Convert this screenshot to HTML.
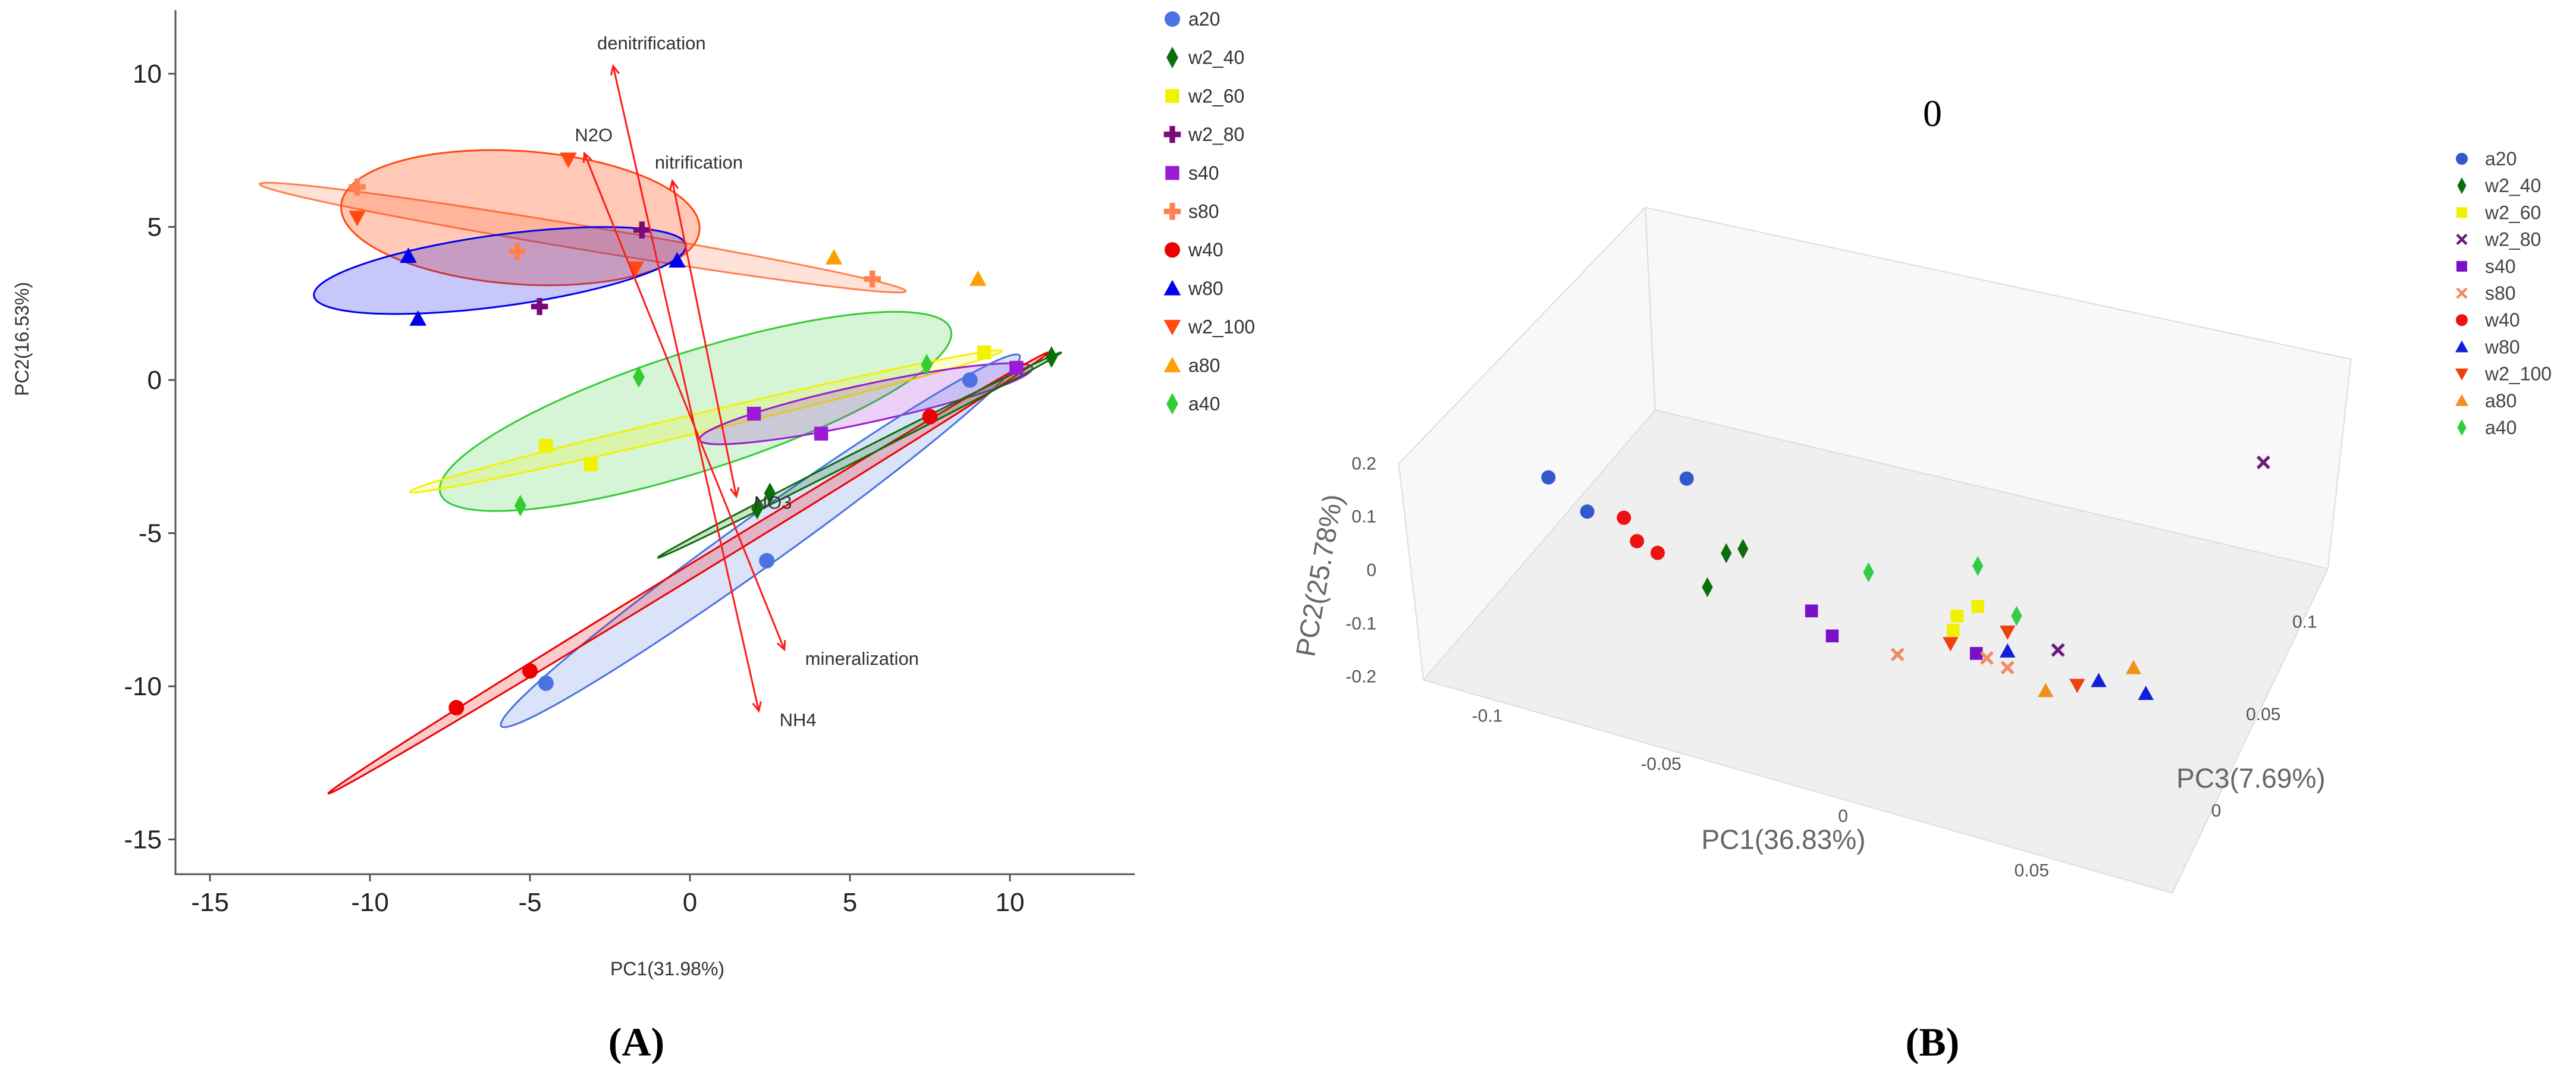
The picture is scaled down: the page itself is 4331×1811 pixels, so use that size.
<!DOCTYPE html>
<html><head><meta charset="utf-8"><style>
html,body{margin:0;padding:0;background:#fff;}
svg{display:block;font-family:"Liberation Sans",sans-serif;}
</style></head><body>
<svg id="fig" width="4331" height="1811" viewBox="0 0 4331 1811" xmlns="http://www.w3.org/2000/svg">
<g id="panelA"></g>
<g id="panelB"></g>
</svg>
<script>
// ---------- Panel A data ----------
const groupsA = ["a20","w2_40","w2_60","w2_80","s40","s80","w40","w80","w2_100","a80","a40"];
const colorsA = ["#4a72e0","#0a6e0a","#f2f200","#7a0a7a","#9a1ad6","#ff8050","#ee0000","#0000ee","#ff4a10","#ffa000","#33cc33"];
const shapesA = ["circle","diamond","square","plus","square","plus","circle","triangle","down","triangle","diamond"];
const pc1A = [[8.75,2.4,-4.5],[11.3,2.5,2.1],[9.2,-4.5,-3.1],[-1.5,-4.7],[2.0,4.1,10.2],[-10.4,-5.4,5.7],[-7.3,-5,7.5],[-8.8,-8.5,-0.4],[-3.8,-10.4,-1.7],[4.5,9.0],[-1.6,-5.3,7.4]];
const pc2A = [[0,-5.9,-9.9],[0.75,-3.7,-4.2],[0.9,-2.15,-2.75],[4.9,2.4],[-1.1,-1.75,0.4],[6.3,4.2,3.3],[-10.7,-9.5,-1.2],[4.05,2.0,3.9],[7.2,5.3,3.65],[4.0,3.3],[0.1,-4.1,0.5]];
const ellGroups = ["s80","w2_100","w80","a40","w2_60","s40","a20","w40","w2_40"];
const ellX1 = [-13.45,-10.9,-11.75,-7.8,-8.75,0.3,-5.9,-11.3,-1.0];
const ellY1 = [6.4,5.7,2.75,-3.7,-3.65,-1.95,-11.3,-13.5,-5.8];
const ellX2 = [6.75,0.3,-0.13,8.15,9.75,10.7,10.3,11.2,11.6];
const ellY2 = [2.9,4.9,4.4,1.65,0.95,0.4,0.8,0.9,0.9];
const ellMinor = [20,112,60,100,16,32,42,11,7];
const ellAlpha = [0.22,0.3,0.22,0.2,0.2,0.2,0.2,0.2,0.2];
const vecStartX = [-2.4,-3.3,-0.55]; const vecStartY = [10.25,7.4,6.5];
const vecEndX = [2.15,2.95,1.45]; const vecEndY = [-10.8,-8.8,-3.8];
const vecLabels = ["denitrification","N2O","nitrification","NH4","mineralization","NO3"];
const vecLabelX = [-2.9,-3.6,-1.1,2.8,3.6,2.0]; const vecLabelY = [10.8,7.8,6.9,-11.3,-9.3,-4.2];
const xTicksA = [-15,-10,-5,0,5,10];
const yTicksA = [10,5,0,-5,-10,-15];

// ---------- Panel B data ----------
const groupsB = ["a20","w2_40","w2_60","w2_80","s40","s80","w40","w80","w2_100","a80","a40"];
const colorsB = ["#3358cc","#0a6e0a","#f0f000","#6a1a7a","#7a10c8","#f08a60","#ee1111","#1020d8","#f04010","#f09020","#33cc44"];
const shapesB = ["circle","diamond","square","x","square","x","circle","triangle","down","triangle","diamond"];
const pc1B = [[-0.083,-0.0723,-0.0449],[-0.034,-0.0294,-0.0392],[0.0296,0.0353,0.0285],[0.0574,0.114],[-0.0105,-0.0048,0.0349],[0.0132,0.0378,0.0435],[-0.0622,-0.0586,-0.0529],[0.0435,0.0686,0.0816],[0.0278,0.0435,0.0627],[0.054,0.0782],[0.0052,0.0353,0.046]];
const pc2B = [[0.0135,-0.030,0.085],[-0.034,-0.017,-0.108],[-0.029,0.0,-0.058],[-0.039,0.423],[-0.097,-0.133,-0.089],[-0.133,-0.092,-0.099],[-0.022,-0.059,-0.070],[-0.068,-0.075,-0.074],[-0.084,-0.032,-0.095],[-0.122,-0.032],[0.006,0.076,0.003]];
const pc2Ticks = ["0.2","0.1","0","-0.1","-0.2"];
const pc1Ticks = ["-0.1","-0.05","0","0.05"];
const pc3Ticks = ["0.1","0.05","0"];

const NS="http://www.w3.org/2000/svg";
function mk(tag, attrs, parent){const e=document.createElementNS(NS,tag);for(const k in attrs)e.setAttribute(k,attrs[k]);parent.appendChild(e);return e;}
function sym(parent, shape, x, y, s, color){
  let e;
  if(shape==="circle") e=mk("circle",{cx:x,cy:y,r:s*0.5,fill:color},parent);
  else if(shape==="square") e=mk("rect",{x:x-s*0.45,y:y-s*0.45,width:s*0.9,height:s*0.9,fill:color},parent);
  else if(shape==="diamond") e=mk("path",{d:`M${x},${y-s*0.7}L${x+s*0.38},${y}L${x},${y+s*0.7}L${x-s*0.38},${y}Z`,fill:color},parent);
  else if(shape==="triangle") e=mk("path",{d:`M${x},${y-s*0.55}L${x+s*0.55},${y+s*0.45}L${x-s*0.55},${y+s*0.45}Z`,fill:color},parent);
  else if(shape==="down") e=mk("path",{d:`M${x},${y+s*0.55}L${x+s*0.55},${y-s*0.45}L${x-s*0.55},${y-s*0.45}Z`,fill:color},parent);
  else if(shape==="plus"){const a=s*0.55,b=s*0.18;e=mk("path",{d:`M${x-b},${y-a}h${2*b}v${a-b}h${a-b}v${2*b}h${-(a-b)}v${a-b}h${-2*b}v${-(a-b)}h${-(a-b)}v${-2*b}h${a-b}Z`,fill:color},parent);}
  else if(shape==="x"){const a=s*0.4;e=mk("path",{d:`M${x-a},${y-a}L${x+a},${y+a}M${x+a},${y-a}L${x-a},${y+a}`,stroke:color,"stroke-width":s*0.22,fill:"none"},parent);}
  return e;
}

// ---------- Panel A ----------
const A=document.getElementById("panelA");
const X=d=>1160+d*53.8, Y=d=>639-d*51.5;
let ln=mk("path",{d:"M295,17V1470H1908",stroke:"#555",fill:"none","stroke-width":3},A);


xTicksA.forEach(t=>{
  const tk=mk("line",{x1:X(t),x2:X(t),y1:1470,y2:1482,stroke:"#555","stroke-width":3},A);
  
  
  const tx=mk("text",{x:X(t),y:1532,"font-size":44,"text-anchor":"middle",fill:"#222"},A);
  tx.textContent=t;
  
  
});
yTicksA.forEach(t=>{
  const tk=mk("line",{x1:283,x2:295,y1:Y(t),y2:Y(t),stroke:"#555","stroke-width":3},A);
  
  
  const tx=mk("text",{x:272,y:Y(t)+15,"font-size":44,"text-anchor":"end",fill:"#222"},A);
  tx.textContent=t;
  
  
});
let t1=mk("text",{x:1122,y:1640,"font-size":32,"text-anchor":"middle",fill:"#333"},A);t1.textContent="PC1(31.98%)";


let t2=mk("text",{x:0,y:0,"font-size":32,"text-anchor":"middle",fill:"#333",transform:"translate(48,570) rotate(-90)"},A);t2.textContent="PC2(16.53%)";


let t3=mk("text",{x:1070,y:1775,"font-size":68,"font-weight":"bold","text-anchor":"middle","font-family":"Liberation Serif, serif",fill:"#000"},A);t3.textContent="(A)";



ellGroups.forEach((g,i)=>{
  const c=colorsA[groupsA.indexOf(g)];
  const x1=X(ellX1[i]),y1=Y(ellY1[i]),x2=X(ellX2[i]),y2=Y(ellY2[i]);
  const cx=(x1+x2)/2,cy=(y1+y2)/2,rx=Math.hypot(x2-x1,y2-y1)/2,ang=Math.atan2(y2-y1,x2-x1)*180/Math.PI;
  const e=mk("ellipse",{cx:cx,cy:cy,rx:rx,ry:ellMinor[i],fill:c,"fill-opacity":ellAlpha[i],stroke:c,"stroke-width":3,transform:`rotate(${ang} ${cx} ${cy})`},A);
  
  
});
groupsA.forEach((g,i)=>{
  pc1A[i].forEach((v,j)=>{
    const m=sym(A,shapesA[i],X(v),Y(pc2A[i][j]),26,colorsA[i]);
    
    
  });
});
function arrowHead(x,y,fx,fy){
  const a=Math.atan2(y-fy,x-fx),L=16,w=0.45;
  return `M${x-L*Math.cos(a-w)},${y-L*Math.sin(a-w)}L${x},${y}L${x-L*Math.cos(a+w)},${y-L*Math.sin(a+w)}`;
}
vecStartX.forEach((v,i)=>{
  const xa=X(v),ya=Y(vecStartY[i]),xb=X(vecEndX[i]),yb=Y(vecEndY[i]);
  const p=mk("path",{d:`M${xa},${ya}L${xb},${yb}`+arrowHead(xa,ya,xb,yb)+arrowHead(xb,yb,xa,ya),stroke:"#ff1a1a","stroke-width":3,fill:"none"},A);
  
  
});
vecLabels.forEach((s,i)=>{
  const t=mk("text",{x:X(vecLabelX[i]),y:Y(vecLabelY[i]),"font-size":31,fill:"#333"},A);
  t.textContent=s;
  
  
});
groupsA.forEach((g,i)=>{
  const y=32+64.7*i;
  const m=sym(A,shapesA[i],1971,y,26,colorsA[i]);
  
  
  const t=mk("text",{x:1998,y:y+11,"font-size":32,fill:"#333"},A);
  t.textContent=g;
  
  
});

// ---------- Panel B ----------
const B=document.getElementById("panelB");
const SX=z=>2150+z*1.391, SY=z=>z*1.155;
const P=(a,b)=>`${SX(a)},${SY(b)}`;
let w1=mk("polygon",{points:[P(145,675),P(443,302),P(455,597),P(175,990)].join(" "),fill:"#f8f8f8",stroke:"#ddd","stroke-width":2},B);

let w2=mk("polygon",{points:[P(443,302),P(1296,523),P(1268,828),P(455,597)].join(" "),fill:"#f8f8f8",stroke:"#ddd","stroke-width":2},B);

let fl=mk("polygon",{points:[P(175,990),P(455,597),P(1268,828),P(1080,1300)].join(" "),fill:"#efefef",stroke:"#ddd","stroke-width":2},B);

const pc2TickY=[675,752,830,908,985];
pc2Ticks.forEach((s,i)=>{
  const t=mk("text",{x:SX(118),y:SY(pc2TickY[i])+10,"font-size":30,"text-anchor":"end",fill:"#555"},B);t.textContent=s;
  
});
const pc1TickPos=[[252,1042],[462,1112],[682,1188],[910,1267]];
pc1Ticks.forEach((s,i)=>{
  const t=mk("text",{x:SX(pc1TickPos[i][0]),y:SY(pc1TickPos[i][1])+10,"font-size":30,"text-anchor":"middle",fill:"#555"},B);t.textContent=s;
  
});
const pc3TickPos=[[1240,905],[1190,1040],[1133,1180]];
pc3Ticks.forEach((s,i)=>{
  const t=mk("text",{x:SX(pc3TickPos[i][0]),y:SY(pc3TickPos[i][1])+10,"font-size":30,"text-anchor":"middle",fill:"#555"},B);t.textContent=s;
  
});
let b1=mk("text",{x:SX(610),y:SY(1222)+16,"font-size":46,"text-anchor":"middle",fill:"#666"},B);b1.textContent="PC1(36.83%)";

let b3=mk("text",{x:SX(1175),y:SY(1133)+16,"font-size":46,"text-anchor":"middle",fill:"#666"},B);b3.textContent="PC3(7.69%)";

let b2=mk("text",{x:0,y:0,"font-size":46,"text-anchor":"middle",fill:"#666",transform:`translate(${SX(50)+14},${SY(840)}) rotate(-80)`},B);b2.textContent="PC2(25.78%)";

let bt=mk("text",{x:3249,y:212,"font-size":64,"text-anchor":"middle","font-family":"Liberation Serif, serif",fill:"#000"},B);bt.textContent="0";

let bl=mk("text",{x:3249,y:1775,"font-size":68,"font-weight":"bold","text-anchor":"middle","font-family":"Liberation Serif, serif",fill:"#000"},B);bl.textContent="(B)";

const PX=(p1)=>SX(690+p1*4387), PY=(p1,p2)=>SY(830+p1*1500-p2*775);
groupsB.forEach((g,i)=>{
  pc1B[i].forEach((v,j)=>{
    const m=sym(B,shapesB[i],PX(v),PY(v,pc2B[i][j]),24,colorsB[i]);
    
    
  });
});
groupsB.forEach((g,i)=>{
  const y=267+45.2*i;
  const m=sym(B,shapesB[i],4139,y,20,colorsB[i]);
  
  
  const t=mk("text",{x:4178,y:y+11,"font-size":32,fill:"#444"},B);
  t.textContent=g;
  
  
});
</script>
</body></html>
